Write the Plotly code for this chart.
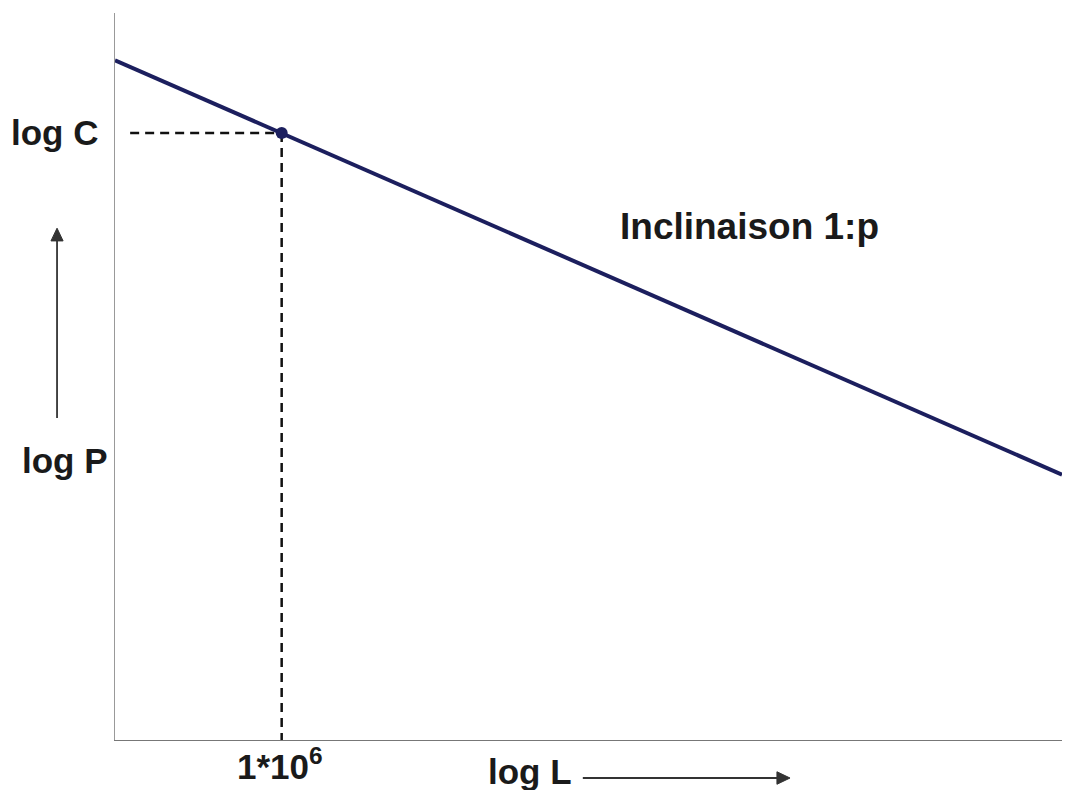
import plotly.graph_objects as go

# Abstract log-log axes (unitless), range 0..10 on both axes
line_x = [0, 10]
line_y = [9.35, 3.65]
point_x = [1.76]
point_y = [8.35]
hdash_x = [0.16, 1.76]
hdash_y = [8.35, 8.35]
vdash_x = [1.76, 1.76]
vdash_y = [8.35, 0]

font = "Liberation Sans, Arial, sans-serif"
txt = "#1a1a1a"
arrow_col = "#333333"

fig = go.Figure()
fig.add_trace(go.Scatter(x=hdash_x, y=hdash_y, mode="lines",
                         line=dict(color="#111111", width=2.5, dash="9px,6px"), hoverinfo="skip"))
fig.add_trace(go.Scatter(x=vdash_x, y=vdash_y, mode="lines",
                         line=dict(color="#111111", width=2.5, dash="9px,6px"), hoverinfo="skip"))
fig.add_trace(go.Scatter(x=line_x, y=line_y, mode="lines",
                         line=dict(color="#1c1f5e", width=4), hoverinfo="skip"))
fig.add_trace(go.Scatter(x=point_x, y=point_y, mode="markers",
                         marker=dict(color="#1c1f5e", size=12), hoverinfo="skip"))

def label(x, y, text, size=35):
    # x, y given in axis units (0..10), placed in paper coords so they show outside the plot area
    fig.add_annotation(x=x / 10, y=y / 10, xref="paper", yref="paper", text=text, showarrow=False,
                       font=dict(family=font, size=size, color=txt), xanchor="center", yanchor="middle")

label(-0.64, 8.35, "<b>log C</b>")
label(-0.53, 3.85, "<b>log P</b>")
label(1.74, -0.33, "<b>1*10<sup>6</sup></b>")
label(4.38, -0.43, "<b>log L</b>")
label(6.70, 7.06, "<b>Inclinaison 1:p</b>", size=37)

# direction arrows (decorations, paper coords)
# vertical arrow next to "log P"
fig.add_shape(type="line", xref="paper", yref="paper", x0=-0.0612, x1=-0.0612, y0=0.443, y1=0.69,
              line=dict(color=arrow_col, width=1.8))
fig.add_shape(type="path", xref="paper", yref="paper",
              path="M -0.0612 0.704 L -0.0676 0.6865 L -0.0548 0.6865 Z",
              fillcolor=arrow_col, line=dict(color=arrow_col, width=1))
# horizontal arrow next to "log L"
fig.add_shape(type="line", xref="paper", yref="paper", x0=0.494, x1=0.702, y0=-0.0523, y1=-0.0523,
              line=dict(color=arrow_col, width=1.8))
fig.add_shape(type="path", xref="paper", yref="paper",
              path="M 0.7128 -0.0523 L 0.6990 -0.0437 L 0.6990 -0.0609 Z",
              fillcolor=arrow_col, line=dict(color=arrow_col, width=1))

fig.update_layout(
    width=1054, height=782,
    margin=dict(l=107, r=0, t=5, b=50),
    paper_bgcolor="white", plot_bgcolor="white",
    showlegend=False,
    xaxis=dict(range=[0, 10], showgrid=False, zeroline=False, showticklabels=False,
               showline=True, linecolor="#777777", linewidth=1.2, ticks=""),
    yaxis=dict(range=[0, 10], showgrid=False, zeroline=False, showticklabels=False,
               showline=True, linecolor="#999999", linewidth=1, ticks=""),
)

fig.write_html("out.html")
